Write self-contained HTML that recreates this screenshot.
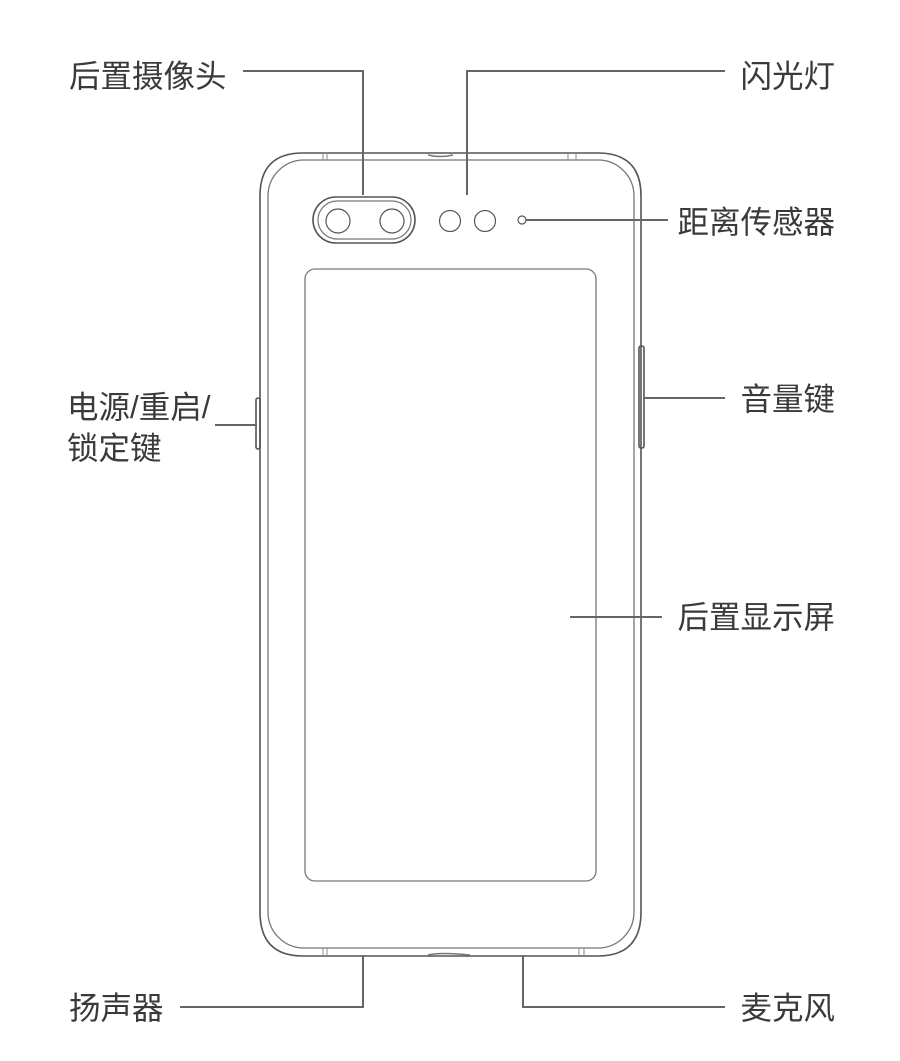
<!DOCTYPE html>
<html><head><meta charset="utf-8"><style>
html,body{margin:0;padding:0;background:#fff;}
body{width:900px;height:1061px;position:relative;overflow:hidden;}
svg{position:absolute;left:0;top:0;}
text{font-family:"Liberation Sans","Noto Sans CJK SC",sans-serif;font-size:31.5px;fill:#3a3a3a;}
</style></head><body>
<svg width="900" height="1061" viewBox="0 0 900 1061">
<g fill="none" stroke="#555" stroke-width="1.6">
<path d="M303,153 H598 Q641,153 641,196 V912 Q641,956 598,956 H303 Q260,956 260,912 V196 Q260,153 303,153"/>
<rect x="268" y="160" width="366" height="788" rx="36" stroke="#777" stroke-width="1.3"/>
<rect x="256" y="398" width="4" height="51" rx="2"/>
<rect x="639" y="346" width="5" height="102" rx="2"/>
<path d="M323,153 V160 M327,153 V160 M568,153 V160 M576,153 V160 M323,948 V956 M327,948 V956 M579,948 V956 M584,948 V956" stroke="#888" stroke-width="1"/>
<path d="M428,155 Q440,158 453,155" stroke="#777"/>
<path d="M428,955 Q440,952 470,955" stroke="#777"/>
<rect x="305" y="269" width="291" height="612" rx="10" stroke="#777" stroke-width="1.3"/>
<rect x="313" y="197" width="102" height="46" rx="23"/>
<rect x="318" y="201" width="93" height="38" rx="19" stroke="#777" stroke-width="1.2"/>
<circle cx="338" cy="221" r="12" stroke-width="1.2"/>
<circle cx="392" cy="221" r="12" stroke-width="1.2"/>
<circle cx="450" cy="221" r="10.5" stroke-width="1.2"/>
<circle cx="485" cy="221" r="10.5" stroke-width="1.2"/>
<circle cx="522" cy="220" r="4" stroke-width="1.2"/>
</g>
<g fill="none" stroke="#666" stroke-width="2">
<path d="M243,71 H363 V195"/>
<path d="M725,71 H467 V195"/>
<path d="M526,220 H668"/>
<path d="M643,398 H725"/>
<path d="M215,425 H257"/>
<path d="M570,617 H662"/>
<path d="M363,955 V1007 H180"/>
<path d="M523,955 V1007 H725"/>
</g>
<text x="69" y="87">后置摄像头</text>
<text x="835" y="87" text-anchor="end">闪光灯</text>
<text x="835" y="233" text-anchor="end">距离传感器</text>
<text x="835" y="410" text-anchor="end">音量键</text>
<text x="67" y="418">电源/重启/</text>
<text x="67" y="459">锁定键</text>
<text x="835" y="628" text-anchor="end">后置显示屏</text>
<text x="69" y="1019">扬声器</text>
<text x="835" y="1019" text-anchor="end">麦克风</text>
</svg>
</body></html>
